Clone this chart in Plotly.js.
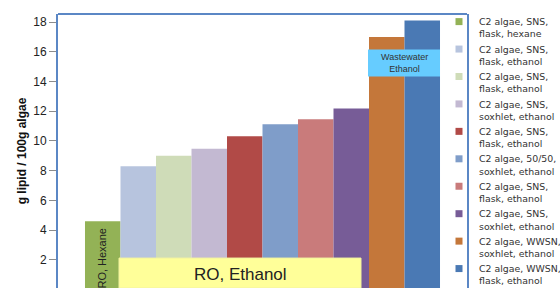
<!DOCTYPE html>
<html>
<head>
<meta charset="utf-8">
<script src="https://cdn.plot.ly/plotly-3.0.1.min.js"></script>
<style>html,body{margin:0;padding:0;background:#fff;}#chart{width:560px;height:288px;}</style>
</head>
<body>
<div id="chart"></div>
<script>
// ---- data ----
const category = ['C2 algae'];
const seriesNames = [
  'C2 algae, SNS,<br>flask, hexane',
  'C2 algae, SNS,<br>flask, ethanol',
  'C2 algae, SNS,<br>flask, ethanol',
  'C2 algae, SNS,<br>soxhlet, ethanol',
  'C2 algae, SNS,<br>flask, ethanol',
  'C2 algae, 50/50,<br>soxhlet, ethanol',
  'C2 algae, SNS,<br>flask, ethanol',
  'C2 algae, SNS,<br>soxhlet, ethanol',
  'C2 algae, WWSN,<br>soxhlet, ethanol',
  'C2 algae, WWSN,<br>flask, ethanol'
];
const lipidValues = [4.6, 8.3, 9.0, 9.47, 10.32, 11.13, 11.46, 12.18, 17.0, 18.12];
const seriesColors = ['#93B256', '#B7C4DE', '#CFDCB8', '#C3B9D2', '#B14A47',
                      '#7F9DC9', '#C97B7B', '#775C97', '#C4773A', '#4A79B4'];
const yTickVals = [0, 2, 4, 6, 8, 10, 12, 14, 16, 18];

// ---- geometry helpers (pixel -> paper) ----
const W = 560, H = 288;
const PL = 58, PR = 467, PT = 13.5, PB = 288;
const px = x => (x - PL) / (PR - PL);
const py = y => (PB - y) / (PB - PT);

const traces = [];
seriesNames.forEach((n, i) => {
  traces.push({
    type: 'bar', x: category, y: [lipidValues[i]], name: n,
    marker: {color: seriesColors[i], line: {width: 0}},
    showlegend: false, hoverinfo: 'skip'
  });
});
seriesNames.forEach((n, i) => {
  traces.push({
    type: 'scatter', mode: 'markers', x: [null], y: [null], name: n,
    marker: {symbol: 'square', size: 7, color: seriesColors[i]},
    showlegend: true, hoverinfo: 'skip'
  });
});

const font = 'Liberation Sans, Arial, sans-serif';
const legFont = 'DejaVu Sans, Liberation Sans, sans-serif';
const layout = {
  width: W, height: H,
  margin: {l: PL, r: W - PR, t: PT, b: H - PB, pad: 0, autoexpand: false},
  paper_bgcolor: '#fff', plot_bgcolor: '#fff',
  barmode: 'group', bargap: 0.132, bargroupgap: 0,
  font: {family: font, color: '#222'},
  xaxis: {visible: false, type: 'category', range: [-0.5, 0.5], fixedrange: true},
  yaxis: {
    range: [0.1, 18.55], tickvals: yTickVals, ticks: 'outside', ticklen: 7,
    tickcolor: '#8c8c8c', tickwidth: 1, showgrid: false, zeroline: false,
    showline: true, mirror: true, linecolor: '#5B87C5', linewidth: 2,
    tickfont: {size: 12, family: font, color: '#222'},
    title: {text: 'g lipid / 100g algae', font: {size: 12, family: font, color: '#111', weight: 'bold'}, standoff: 4}
  },
  legend: {
    xref: 'container', yref: 'container', x: 439 / W, y: 1 - 9 / H,
    xanchor: 'left', yanchor: 'top', valign: 'top', maxheight: 400,
    font: {size: 9.4, family: legFont, color: '#333'},
    bgcolor: 'rgba(0,0,0,0)', tracegroupgap: 0, itemwidth: 30
  },
  shapes: [
    {type: 'line', xref: 'paper', yref: 'paper', x0: 0, x1: 1, y0: 1, y1: 1,
     line: {color: '#5B87C5', width: 2}},
    {type: 'rect', xref: 'paper', yref: 'paper', x0: px(119), x1: px(361), y0: py(288), y1: py(258),
     fillcolor: '#FFFF99', line: {color: '#F2F2A0', width: 1}, layer: 'above'},
    {type: 'rect', xref: 'paper', yref: 'paper', x0: px(368), x1: px(440), y0: py(76), y1: py(49),
     fillcolor: '#66CCFF', line: {width: 0}, layer: 'above'}
  ],
  annotations: [
    {xref: 'paper', yref: 'paper', x: px(102.5), y: py(258), xanchor: 'center', yanchor: 'middle',
     text: 'RO, Hexane', textangle: -90,
     showarrow: false, font: {size: 11, family: font, color: '#222'}},
    {xref: 'paper', yref: 'paper', x: px(240), y: py(274), xanchor: 'center', yanchor: 'middle',
     text: 'RO, Ethanol',
     showarrow: false, font: {size: 17, family: font, color: '#222'}},
    {xref: 'paper', yref: 'paper', x: px(404), y: py(62.5), xanchor: 'center', yanchor: 'middle',
     text: 'Wastewater<br>Ethanol',
     showarrow: false, font: {size: 9, family: font, color: '#333'}}
  ]
};

Plotly.newPlot('chart', traces, layout, {staticPlot: true, displayModeBar: false});
</script>
</body>
</html>
